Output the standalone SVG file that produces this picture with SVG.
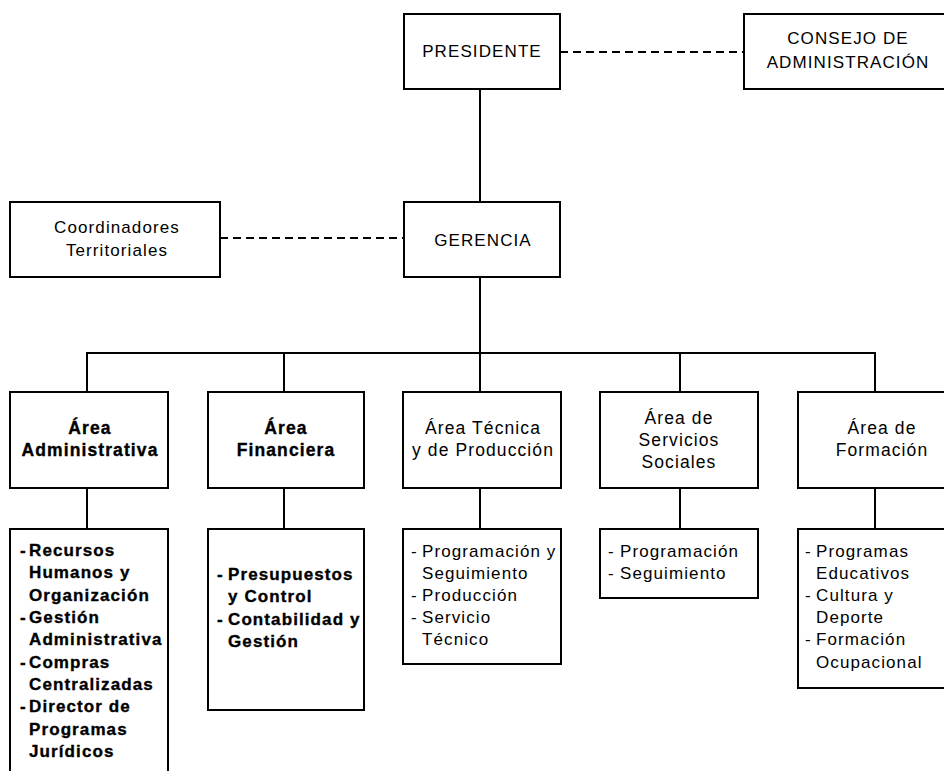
<svg xmlns="http://www.w3.org/2000/svg" width="944" height="771" viewBox="0 0 944 771">
<style>
.box{fill:#fff;stroke:#000;stroke-width:2}
.ln{stroke:#000;stroke-width:2;fill:none}
.dash{stroke:#000;stroke-width:2;fill:none;stroke-dasharray:8 5}
text{font-family:"Liberation Sans",Arial,sans-serif;fill:#000;letter-spacing:1.1px}
.t{font-size:17px;text-anchor:middle}
.h{font-size:17.5px;text-anchor:middle}
.b{font-weight:bold;stroke:#000;stroke-width:0.35px}
.i{font-size:17px}
</style>
<rect width="944" height="771" fill="#fff"/>
<g id="connectors">
<line class="dash" x1="560" y1="52" x2="744" y2="52"/>
<line class="dash" x1="220" y1="238" x2="404" y2="238"/>
<line class="ln" x1="480" y1="89" x2="480" y2="202"/>
<line class="ln" x1="480" y1="277" x2="480" y2="353"/>
<polyline class="ln" points="87,392 87,353 875,353 875,392"/>
<line class="ln" x1="284" y1="353" x2="284" y2="392"/>
<line class="ln" x1="480" y1="353" x2="480" y2="392"/>
<line class="ln" x1="680" y1="353" x2="680" y2="392"/>
<line class="ln" x1="87" y1="488" x2="87" y2="529"/>
<line class="ln" x1="284" y1="488" x2="284" y2="529"/>
<line class="ln" x1="480" y1="488" x2="480" y2="529"/>
<line class="ln" x1="680" y1="488" x2="680" y2="529"/>
<line class="ln" x1="875" y1="488" x2="875" y2="529"/>
</g>
<g id="presidente">
<rect class="box" x="404" y="14" width="156" height="75"/>
<text class="t" x="482" y="57">PRESIDENTE</text>
</g>
<g id="consejo">
<rect class="box" x="744" y="14" width="210" height="75"/>
<text class="t" x="848" y="44">CONSEJO DE</text>
<text class="t" x="848" y="68">ADMINISTRACIÓN</text>
</g>
<g id="coordinadores">
<rect class="box" x="10" y="202" width="210" height="75"/>
<text class="t" x="117" y="233">Coordinadores</text>
<text class="t" x="117" y="256">Territoriales</text>
</g>
<g id="gerencia">
<rect class="box" x="404" y="202" width="156" height="75"/>
<text class="t" x="483" y="246">GERENCIA</text>
</g>
<g id="area-administrativa">
<rect class="box" x="10" y="392" width="158" height="96"/>
<text class="h b" x="90" y="434">Área</text>
<text class="h b" x="90" y="456">Administrativa</text>
</g>
<g id="area-financiera">
<rect class="box" x="208" y="392" width="156" height="96"/>
<text class="h b" x="286" y="434">Área</text>
<text class="h b" x="286" y="456">Financiera</text>
</g>
<g id="area-tecnica">
<rect class="box" x="403" y="392" width="158" height="96"/>
<text class="h" x="483" y="434">Área Técnica</text>
<text class="h" x="483" y="456">y de Producción</text>
</g>
<g id="area-servicios">
<rect class="box" x="600" y="392" width="158" height="96"/>
<text class="h" x="679" y="424">Área de</text>
<text class="h" x="679" y="446">Servicios</text>
<text class="h" x="679" y="468">Sociales</text>
</g>
<g id="area-formacion">
<rect class="box" x="798" y="392" width="160" height="96"/>
<text class="h" x="882" y="434">Área de</text>
<text class="h" x="882" y="456">Formación</text>
</g>
<g id="sub-administrativa">
<rect class="box" x="10" y="529" width="158" height="260"/>
<g class="i b">
<text x="20" y="556">-</text><text x="29" y="556">Recursos</text>
<text x="29" y="578">Humanos y</text>
<text x="29" y="601">Organización</text>
<text x="20" y="623">-</text><text x="29" y="623">Gestión</text>
<text x="29" y="645">Administrativa</text>
<text x="20" y="668">-</text><text x="29" y="668">Compras</text>
<text x="29" y="690">Centralizadas</text>
<text x="20" y="712">-</text><text x="29" y="712">Director de</text>
<text x="29" y="735">Programas</text>
<text x="29" y="757">Jurídicos</text>
</g>
</g>
<g id="sub-financiera">
<rect class="box" x="208" y="529" width="156" height="181"/>
<g class="i b">
<text x="217" y="580">-</text><text x="228" y="580">Presupuestos</text>
<text x="228" y="602">y Control</text>
<text x="217" y="625">-</text><text x="228" y="625">Contabilidad y</text>
<text x="228" y="647">Gestión</text>
</g>
</g>
<g id="sub-tecnica">
<rect class="box" x="403" y="529" width="158" height="135"/>
<g class="i">
<text x="411" y="557">-</text><text x="422" y="557">Programación y</text>
<text x="422" y="579">Seguimiento</text>
<text x="411" y="601">-</text><text x="422" y="601">Producción</text>
<text x="411" y="623">-</text><text x="422" y="623">Servicio</text>
<text x="422" y="645">Técnico</text>
</g>
</g>
<g id="sub-servicios">
<rect class="box" x="600" y="529" width="158" height="69"/>
<g class="i">
<text x="608" y="557">-</text><text x="620" y="557">Programación</text>
<text x="608" y="579">-</text><text x="620" y="579">Seguimiento</text>
</g>
</g>
<g id="sub-formacion">
<rect class="box" x="798" y="529" width="160" height="159"/>
<g class="i">
<text x="805" y="557">-</text><text x="816" y="557">Programas</text>
<text x="816" y="579">Educativos</text>
<text x="805" y="601">-</text><text x="816" y="601">Cultura y</text>
<text x="816" y="623">Deporte</text>
<text x="805" y="645">-</text><text x="816" y="645">Formación</text>
<text x="816" y="668">Ocupacional</text>
</g>
</g>
</svg>
